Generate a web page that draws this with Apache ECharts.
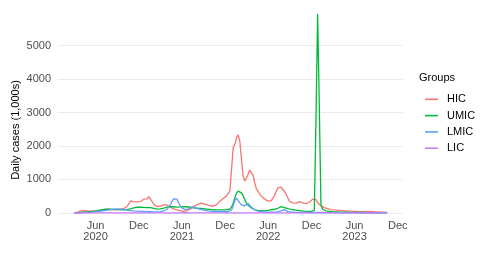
<!DOCTYPE html>
<html><head><meta charset="utf-8">
<script src="https://cdn.jsdelivr.net/npm/echarts@6/dist/echarts.min.js"></script>
<style>html,body{margin:0;padding:0;background:#fff}#c{width:490px;height:257px}</style>
</head><body><div id="c"></div>
<script>
// weekly observations, daily cases in 1,000s
const startDate = '2020-03-03';
const stepDays = 7;
const groups = ['HIC', 'UMIC', 'LMIC', 'LIC'];
const hic = [
  2, 5, 25, 50, 65, 70, 70, 65, 60, 58,
  55, 55, 52, 50, 52, 60, 70, 85, 100, 110,
  115, 110, 100, 95, 90, 92, 100, 105, 115, 125,
  135, 150, 200, 280, 360, 390, 340, 300, 330, 370,
  340, 330, 410, 360, 420, 490, 420, 340, 260, 210,
  190, 180, 200, 220, 240, 250, 240, 200, 170, 140,
  120, 110, 95, 80, 70, 60, 50, 55, 70, 90,
  110, 150, 190, 220, 240, 270, 290, 300, 280, 260,
  240, 230, 220, 210, 200, 220, 250, 290, 350, 400,
  430, 470, 510, 540, 650, 1300, 1950, 2050, 2250, 2330,
  2150, 1600, 1100, 950, 940, 1150, 1280, 1250, 1130, 900,
  720, 650, 560, 500, 470, 420, 370, 350, 340, 370,
  420, 520, 650, 750, 790, 770, 700, 640, 560, 450,
  350, 310, 300, 295, 295, 310, 340, 320, 300, 285,
  280, 300, 320, 370, 410, 430, 400, 310, 260, 210,
  180, 160, 150, 130, 110, 100, 95, 90, 85, 82,
  80, 75, 70, 65, 60, 58, 55, 52, 50, 48,
  46, 44, 42, 42, 40, 40, 40, 42, 100, 45,
  38, 35, 32, 30, 28, 26, 24, 22, 20, 18
];
const umic = [
  1, 2, 5, 10, 15, 20, 25, 30, 35, 40,
  45, 50, 55, 60, 70, 80, 90, 100, 105, 110,
  115, 115, 110, 110, 105, 100, 100, 95, 95, 95,
  95, 100, 105, 110, 120, 135, 150, 165, 170, 175,
  175, 170, 165, 160, 160, 165, 160, 150, 140, 125,
  115, 115, 120, 130, 145, 160, 175, 185, 190, 190,
  185, 180, 175, 175, 180, 185, 190, 190, 185, 180,
  170, 160, 155, 150, 145, 140, 135, 130, 125, 120,
  115, 110, 105, 100, 95, 95, 92, 90, 90, 90,
  90, 90, 92, 95, 120, 180, 290, 450, 590, 650,
  665, 600, 510, 400, 290, 230, 190, 150, 110, 95,
  85, 80, 75, 70, 65, 60, 65, 75, 90, 100,
  105, 110, 120, 140, 170, 190, 180, 160, 140, 130,
  120, 110, 100, 95, 90, 80, 70, 65, 60, 55,
  50, 50, 45, 45, 50, 80, 2800, 5940, 3200, 250,
  110, 80, 65, 55, 50, 45, 40, 38, 35, 32,
  30, 28, 27, 25, 24, 22, 20, 19, 18, 17,
  16, 15, 14, 14, 13, 13, 12, 12, 12, 11,
  11, 10, 10, 10, 9, 9, 8, 8, 8, 7
];
const lmic = [
  0, 1, 2, 4, 6, 8, 11, 14, 18, 22,
  26, 30, 35, 40, 45, 50, 55, 62, 70, 78,
  85, 92, 100, 108, 115, 120, 122, 120, 115, 108,
  100, 92, 85, 78, 72, 66, 62, 58, 55, 52,
  50, 47, 44, 42, 40, 38, 36, 34, 32, 32,
  32, 34, 38, 45, 60, 80, 110, 160, 240, 340,
  420, 455, 410, 310, 210, 150, 115, 100, 105, 125,
  155, 175, 170, 155, 140, 125, 110, 100, 90, 80,
  70, 62, 55, 50, 46, 43, 40, 38, 37, 37,
  37, 38, 40, 45, 55, 90, 210, 370, 440, 390,
  300, 240, 215, 215, 255, 285, 240, 170, 125, 95,
  70, 55, 45, 40, 35, 30, 28, 26, 25, 25,
  25, 27, 30, 35, 45, 60, 85, 100, 55, 40,
  33, 28, 25, 22, 20, 19, 18, 17, 16, 15,
  14, 14, 13, 13, 13, 14, 15, 15, 14, 13,
  12, 11, 10, 10, 9, 9, 8, 8, 7, 7,
  7, 6, 6, 6, 5, 5, 5, 5, 5, 4,
  4, 4, 4, 4, 4, 4, 3, 3, 3, 3,
  3, 3, 3, 3, 3, 3, 3, 3, 3, 3
];
const lic = [
  0, 0, 0, 0, 0, 0, 0, 0, 1, 1,
  1, 1, 1, 1, 2, 2, 2, 2, 2, 2,
  2, 2, 2, 2, 2, 2, 2, 2, 1, 1,
  1, 1, 1, 1, 1, 1, 1, 1, 1, 2,
  2, 2, 2, 2, 2, 2, 2, 2, 2, 2,
  2, 2, 2, 2, 2, 2, 2, 3, 3, 3,
  3, 3, 3, 3, 4, 5, 6, 6, 6, 5,
  5, 4, 4, 3, 3, 3, 3, 2, 2, 2,
  2, 2, 2, 2, 2, 2, 2, 2, 3, 4,
  5, 6, 6, 6, 5, 4, 3, 3, 2, 2,
  2, 2, 2, 2, 1, 1, 1, 1, 1, 1,
  1, 1, 1, 1, 1, 1, 1, 1, 1, 1,
  1, 1, 1, 1, 1, 1, 1, 1, 1, 1,
  1, 1, 1, 1, 1, 1, 1, 1, 1, 1,
  1, 1, 1, 1, 1, 1, 1, 1, 1, 1,
  1, 1, 1, 1, 1, 1, 1, 1, 1, 1,
  1, 1, 1, 1, 1, 0, 0, 0, 0, 0,
  0, 0, 0, 0, 0, 0, 0, 0, 0, 0,
  0, 0, 0, 0, 0, 0, 0, 0, 0, 0
];
const yTicks = [0, 1000, 2000, 3000, 4000, 5000];
const xTickDates = ['2020-06-01', '2020-12-01', '2021-06-01', '2021-12-01', '2022-06-01', '2022-12-01', '2023-06-01', '2023-12-01'];
const xTickLabels = ['Jun\n2020', 'Dec', 'Jun\n2021', 'Dec', 'Jun\n2022', 'Dec', 'Jun\n2023', 'Dec'];
const xRange = ['2019-12-24', '2023-12-20'];
const yRange = [-297, 6237];
const colors = ['#F8766D', '#00BA38', '#619CFF', '#C77CFF'];
const yTitle = 'Daily cases (1,000s)';
const legendTitle = 'Groups';

const DAY = 86400000;
const t0 = Date.parse(startDate);
const seriesValues = [hic, umic, lmic, lic];
const xTickVals = xTickDates.map(d => Date.parse(d));
const labelMap = {};
xTickVals.forEach((v, i) => { labelMap[v] = xTickLabels[i]; });
const font = '"Liberation Sans", Arial, Helvetica, sans-serif';

const chart = echarts.init(document.getElementById('c'), null, { renderer: 'canvas' });
chart.setOption({
  animation: false,
  backgroundColor: '#ffffff',
  textStyle: { fontFamily: font },
  grid: { left: 57.7, right: 87.7, top: 4.1, bottom: 34.1, containLabel: false },
  xAxis: {
    type: 'value',
    min: Date.parse(xRange[0]),
    max: Date.parse(xRange[1]),
    axisLine: { show: false },
    axisTick: { show: false, customValues: xTickVals },
    splitLine: { show: false },
    axisLabel: {
      customValues: xTickVals,
      formatter: v => labelMap[v] || '',
      color: '#4D4D4D', fontSize: 11, fontFamily: font, lineHeight: 11.6,
      margin: -3
    }
  },
  yAxis: {
    type: 'value',
    min: yRange[0], max: yRange[1],
    axisLine: { show: false },
    axisTick: { show: false, customValues: yTicks },
    splitLine: { show: true, lineStyle: { color: '#EBEBEB', width: 1 } },
    axisLabel: {
      customValues: yTicks,
      formatter: v => String(v),
      color: '#4D4D4D', fontSize: 11, fontFamily: font, margin: 6.7
    }
  },
  legend: {
    orient: 'vertical', left: 420, top: 88.3, itemGap: 4.3,
    itemWidth: 13, itemHeight: 1.6, icon: 'rect',
    data: groups,
    textStyle: { color: '#000', fontSize: 11, fontFamily: font, lineHeight: 12, padding: [0, 0, 0, 4] }
  },
  graphic: [
    { type: 'text', x: 16, y: 130, rotation: Math.PI / 2,
      style: { text: yTitle, fill: '#000', fontSize: 11, fontFamily: font, textAlign: 'center', textVerticalAlign: 'middle' } },
    { type: 'text', x: 419, y: 77.7,
      style: { text: legendTitle, fill: '#000', fontSize: 11, fontFamily: font, textAlign: 'left', textVerticalAlign: 'middle' } }
  ],
  series: groups.map((g, k) => ({
    name: g,
    type: 'line',
    showSymbol: false,
    symbol: 'none',
    color: colors[k],
    lineStyle: { width: 1.3, color: colors[k] },
    data: seriesValues[k].map((v, i) => [t0 + i * stepDays * DAY, v])
  }))
});
</script></body></html>
